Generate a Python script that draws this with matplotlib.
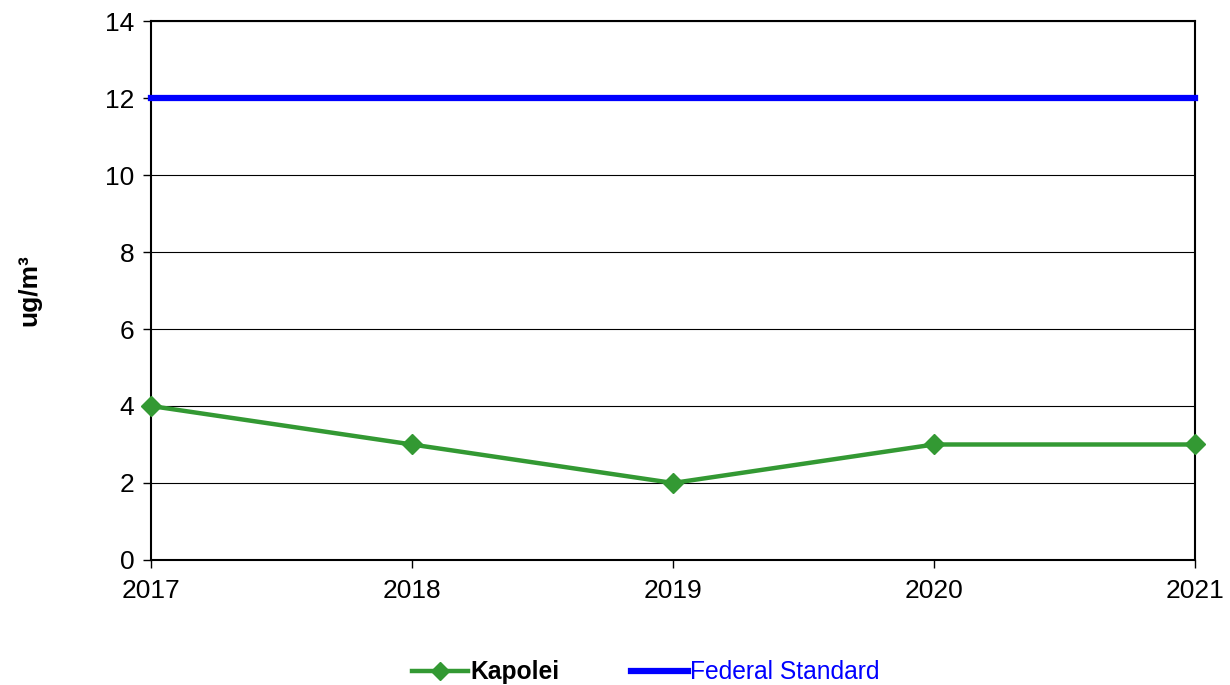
import matplotlib.pyplot as plt

plt.rcParams['font.family'] = ['Liberation Sans', 'DejaVu Sans']

years = [2017, 2018, 2019, 2020, 2021]
kapolei = [4, 3, 2, 3, 3]
federal_standard = [12, 12, 12, 12, 12]
yticks = [0, 2, 4, 6, 8, 10, 12, 14]

fig = plt.figure(figsize=(12.3, 6.85), dpi=100)
ax = fig.add_axes([0.1228, 0.1825, 0.8487, 0.7868])

ax.plot(years, kapolei, color='#339933', lw=3.2, marker='D', ms=10,
        label='Kapolei', clip_on=False, zorder=4)
ax.plot(years, federal_standard, color='#0000ff', lw=4.5,
        label='Federal Standard', clip_on=False, zorder=3)

ax.set_xlim(2017, 2021)
ax.set_ylim(0, 14)
ax.set_xticks(years)
ax.set_yticks(yticks)
ax.grid(axis='y', color='black', lw=0.8)
ax.set_axisbelow(True)
for s in ax.spines.values():
    s.set_linewidth(1.5)
ax.tick_params(labelsize=19, direction='out', length=6, width=1)
ax.tick_params(axis='x', pad=8)
ax.tick_params(axis='y', pad=6)
ax.set_ylabel('ug/m³', fontsize=19, fontweight='bold', labelpad=46)

leg = fig.legend(loc='lower center', bbox_to_anchor=(0.525, -0.031), ncol=2,
                 frameon=False, fontsize=17.7, handlelength=2.3,
                 handletextpad=0.1, columnspacing=2.9, markerscale=0.9)
texts = leg.get_texts()
texts[0].set_fontweight('bold')
texts[1].set_color('#0000ff')

fig.savefig('out.png', dpi=100)
